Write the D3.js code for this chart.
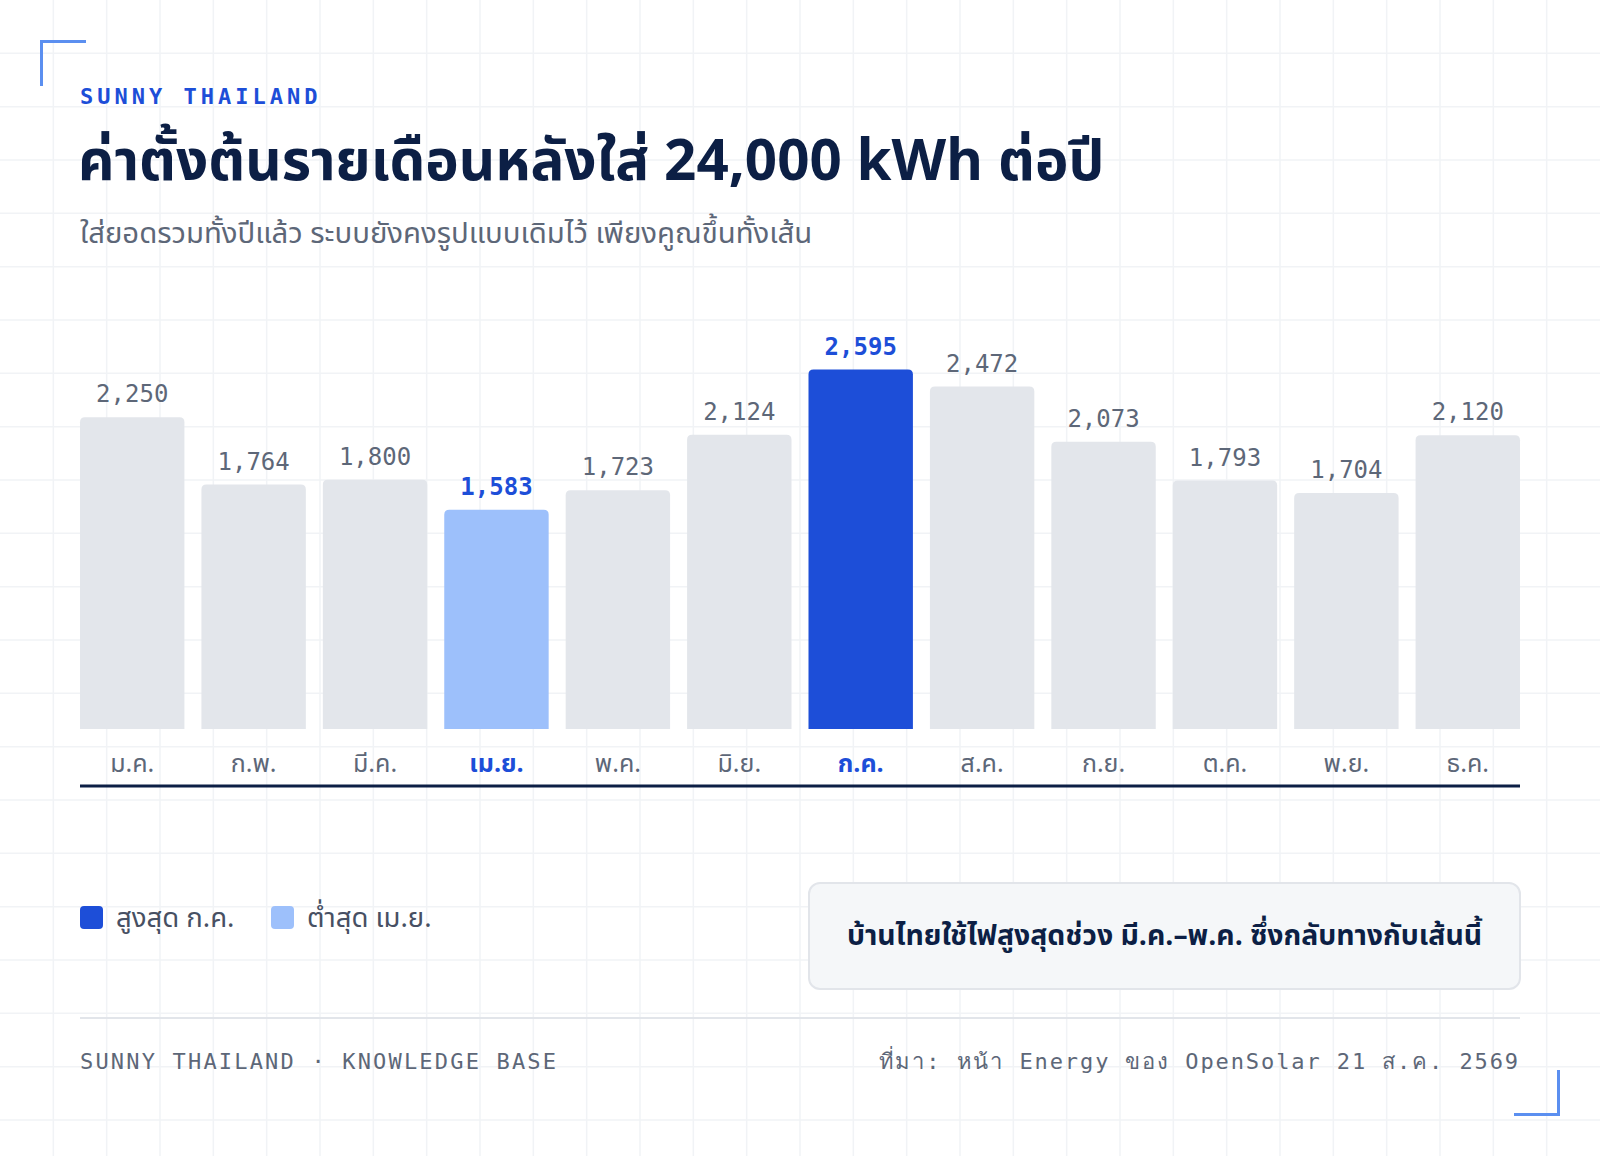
<!DOCTYPE html>
<html><head><meta charset="utf-8">
<script src="https://cdn.jsdelivr.net/npm/d3@7"></script>
<style>
html,body{margin:0;padding:0;background:#fff;}
svg{display:block;}
</style></head>
<body>
<script>
const months = ["ม.ค.","ก.พ.","มี.ค.","เม.ย.","พ.ค.","มิ.ย.","ก.ค.","ส.ค.","ก.ย.","ต.ค.","พ.ย.","ธ.ค."];
const values = [2250,1764,1800,1583,1723,2124,2595,2472,2073,1793,1704,2120];
const highMonth = "ก.ค.";
const lowMonth = "เม.ย.";
const eyebrow = "SUNNY THAILAND";
const title = "ค่าตั้งต้นรายเดือนหลังใส่ 24,000 kWh ต่อปี";
const subtitle = "ใส่ยอดรวมทั้งปีแล้ว ระบบยังคงรูปแบบเดิมไว้ เพียงคูณขึ้นทั้งเส้น";
const legendLabels = ["สูงสุด ก.ค.","ต่ำสุด เม.ย."];
const calloutText = "บ้านไทยใช้ไฟสูงสุดช่วง มี.ค.–พ.ค. ซึ่งกลับทางกับเส้นนี้";
const footLeft = "SUNNY THAILAND · KNOWLEDGE BASE";
const footRight = "ที่มา: หน้า Energy ของ OpenSolar 21 ส.ค. 2569";

const W = 1600, H = 1156;
const thai = "'Noto Sans Thai','IBM Plex Sans Thai','Noto Sans',sans-serif";
const mono = "'DejaVu Sans Mono','Liberation Mono',monospace";
const navy = "#0c1f45", gray = "#5d6778", blue = "#1d4ed8", light = "#9dc0fb", barGray = "#e3e6eb";

const svg = d3.select("body").append("svg").attr("width", W).attr("height", H);

// background grid
const gridStep = W / 30;
const gx = d3.range(1, 30).map(i => i * gridStep);
const gy = d3.range(1, Math.ceil(H / gridStep)).map(i => i * gridStep);
const grid = svg.append("g").attr("stroke", "#f1f3f6").attr("stroke-width", 1.5);
grid.selectAll("line.v").data(gx).join("line").attr("x1", d => d).attr("x2", d => d).attr("y1", 0).attr("y2", H);
grid.selectAll("line.h").data(gy).join("line").attr("y1", d => d).attr("y2", d => d).attr("x1", 0).attr("x2", W);

// corner brackets
svg.append("path").attr("d", "M41.5,86 V41.5 H86").attr("fill", "none").attr("stroke", "#5b8ff0").attr("stroke-width", 3);
svg.append("path").attr("d", "M1514,1114.5 H1558.5 V1070").attr("fill", "none").attr("stroke", "#5b8ff0").attr("stroke-width", 3);

const left = 80, right = 1520;

svg.append("text").attr("x", left).attr("y", 104).text(eyebrow)
  .attr("font-family", mono).attr("font-weight", 700).attr("font-size", 22)
  .attr("letter-spacing", 4).attr("fill", blue);

svg.append("text").attr("x", left - 2).attr("y", 180).text(title)
  .attr("font-family", thai).attr("font-weight", 700).attr("font-size", 56.5).attr("fill", navy);

svg.append("text").attr("x", left).attr("y", 243).text(subtitle)
  .attr("font-family", thai).attr("font-size", 29.3).attr("fill", gray);

// scales
const x = d3.scaleBand().domain(months).range([left, right]).paddingInner(0.14).paddingOuter(0);
const y = d3.scaleLinear().domain([0, d3.max(values)]).range([729, 369.5]);

const data = months.map((m, i) => ({ m, v: values[i] }));
const colorOf = m => m === highMonth ? blue : m === lowMonth ? light : barGray;
const r = 5;
function barPath(d) {
  const x0 = x(d.m), x1 = x0 + x.bandwidth(), y0 = y(0), y1 = y(d.v);
  return `M${x0},${y0} V${y1 + r} Q${x0},${y1} ${x0 + r},${y1} H${x1 - r} Q${x1},${y1} ${x1},${y1 + r} V${y0} Z`;
}
svg.append("g").selectAll("path").data(data).join("path")
  .attr("d", barPath).attr("fill", d => colorOf(d.m));

const fmt = d3.format(",");
svg.append("g").selectAll("text").data(data).join("text")
  .attr("x", d => x(d.m) + x.bandwidth() / 2).attr("y", d => y(d.v) - 15)
  .attr("text-anchor", "middle").attr("font-family", mono).attr("font-size", 24)
  .attr("font-weight", d => (d.m === highMonth || d.m === lowMonth) ? 700 : 400)
  .attr("fill", d => (d.m === highMonth || d.m === lowMonth) ? blue : gray)
  .text(d => fmt(d.v));

// axis
const axisG = svg.append("g").attr("transform", "translate(0,786)");
axisG.call(d3.axisBottom(x).tickSize(0).tickPadding(0));
axisG.select(".domain").attr("d", `M${left},0H${right}`).attr("stroke", navy).attr("stroke-width", 3);
axisG.selectAll(".tick text").attr("y", -14).attr("dy", 0)
  .attr("font-family", thai).attr("font-size", 25)
  .attr("font-weight", d => (d === highMonth || d === lowMonth) ? 700 : 400)
  .attr("fill", d => (d === highMonth || d === lowMonth) ? blue : gray);

// legend
const legend = svg.append("g").attr("transform", "translate(80,906)");
const legendColors = [blue, light];
const legendX = [0, 191];
legendLabels.forEach((t, i) => {
  legend.append("rect").attr("x", legendX[i]).attr("y", 0).attr("width", 23).attr("height", 23).attr("rx", 4).attr("fill", legendColors[i]);
  legend.append("text").attr("x", legendX[i] + 36).attr("y", 21).text(t)
    .attr("font-family", thai).attr("font-size", 27.5).attr("fill", "#475063");
});

// callout
svg.append("rect").attr("x", 809).attr("y", 883).attr("width", 711).attr("height", 106).attr("rx", 11)
  .attr("fill", "#f5f7f9").attr("stroke", "#e2e5ea").attr("stroke-width", 2);
svg.append("text").attr("x", 809 + 711 / 2).attr("y", 945).attr("text-anchor", "middle").text(calloutText)
  .attr("font-family", thai).attr("font-weight", 700).attr("font-size", 28.4).attr("fill", navy);

// footer
svg.append("line").attr("x1", left).attr("x2", right).attr("y1", 1018).attr("y2", 1018).attr("stroke", "#e2e5ea").attr("stroke-width", 2);
svg.append("text").attr("x", left).attr("y", 1069).text(footLeft)
  .attr("font-family", mono).attr("font-size", 22).attr("letter-spacing", 2.18).attr("fill", gray);
svg.append("text").attr("x", right).attr("y", 1069).attr("text-anchor", "end").text(footRight)
  .attr("font-family", mono).attr("font-size", 22).attr("letter-spacing", 1.9).attr("fill", gray);
</script>
</body></html>
